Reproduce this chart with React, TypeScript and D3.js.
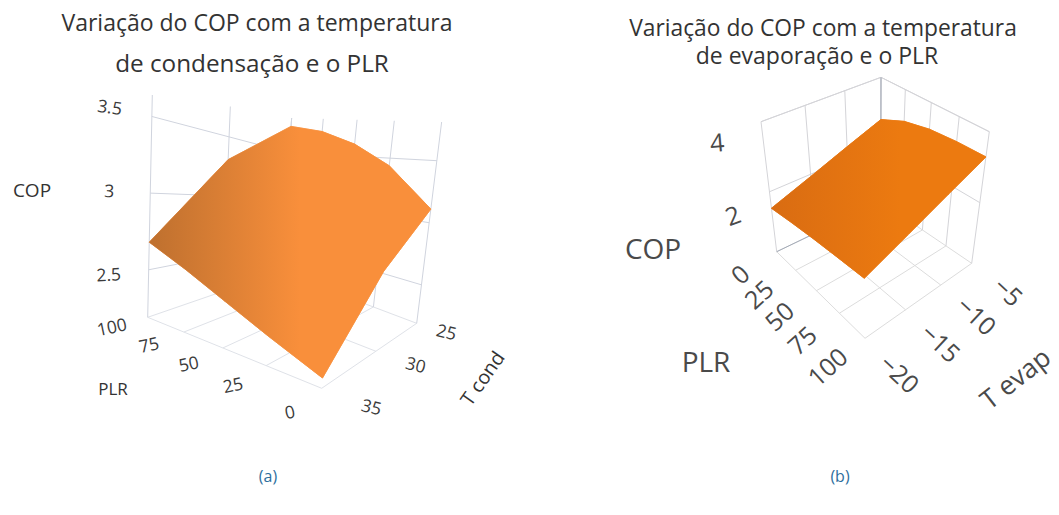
import React from "react";
import * as d3 from "d3";

// ---------- data ----------
const plrTicks = [0, 25, 50, 75, 100];
const tCondTicks = [25, 30, 35];
const tEvapTicks = [-5, -10, -15, -20];
const copTicksA = [2.5, 3, 3.5];
const copTicksB = [2, 4];
// rows follow plrTicks, columns follow the temperature ticks
const copCondRows = [
  [3.11, 2.78, 2.26],
  [3.43, 3.0, 2.39],
  [3.61, 3.14, 2.5],
  [3.73, 3.24, 2.6],
  [3.79, 3.27, 2.68],
];
const copEvapRows = [
  [2.74, 2.34, 1.93, 1.53],
  [3.05, 2.57, 2.1, 1.64],
  [3.21, 2.72, 2.23, 1.74],
  [3.27, 2.79, 2.3, 1.83],
  [3.29, 2.82, 2.36, 1.92],
];
const titleA = ["Variação do COP com a temperatura", "de condensação e o PLR"];
const titleB = ["Variação do COP com a temperatura", "de evaporação e o PLR"];

// ---------- perspective helpers ----------
type Pt = [number, number];
function homography(q: Pt[]) {
  const [[x0, y0], [x1, y1], [x2, y2], [x3, y3]] = q;
  const dx1 = x1 - x2, dx2 = x3 - x2, sx = x0 - x1 + x2 - x3;
  const dy1 = y1 - y2, dy2 = y3 - y2, sy = y0 - y1 + y2 - y3;
  const den = dx1 * dy2 - dx2 * dy1;
  const g = (sx * dy2 - dx2 * sy) / den, h = (dx1 * sy - sx * dy1) / den;
  const a = x1 - x0 + g * x1, b = x3 - x0 + h * x3;
  const d = y1 - y0 + g * y1, e = y3 - y0 + h * y3;
  return (u: number, v: number): Pt => {
    const w = g * u + h * v + 1;
    return [(a * u + b * v + x0) / w, (d * u + e * v + y0) / w];
  };
}
const lerp = (a: number, b: number, t: number) => a + (b - a) * t;
const linePath = d3.line<Pt>();

interface Cfg {
  id: string;
  floor: Pt[]; // (plr min,t first) (plr max,t first) (plr max,t last) (plr min,t last)
  top: Pt[];
  zDomain: [number, number];
  plrExp: number;
  tTicks: number[];
  copTicks: number[];
  rows: number[][];
  grad: [number, number, string, string];
  wallStroke: string;
  floorStroke: string;
  edgeStroke: string;
  accentStroke?: string;
  topEdges: boolean;
  wallPlr: number;
  wallT: number;
  wallTopY?: [number, number, number];
  plrLab: { o0: Pt; o1: Pt; rot: number; size: number; color: string };
  tLab: { o0: Pt; o1: Pt; rot: number; size: number; color: string };
  copLab: { o0: Pt; o1: Pt; r0: number; r1: number; size: number; color: string };
}

function Panel({ c }: { c: Cfg }) {
  const uS = d3.scalePow().exponent(c.plrExp).domain([0, 100]).range([0, 1]);
  const vS = d3.scaleLinear().domain([c.tTicks[0], c.tTicks[c.tTicks.length - 1]]).range([0, 1]);
  const wS = d3.scaleLinear().domain(c.zDomain).range([0, 1]);
  const F = homography(c.floor);
  const rise: Pt[] = c.top.map((p, i) => [p[0] - c.floor[i][0], p[1] - c.floor[i][1]]);
  const proj = (plr: number, t: number, z: number): Pt => {
    const u = uS(plr), v = vS(t), w = wS(z);
    const a = F(u, v);
    const bil = (k: 0 | 1) =>
      lerp(lerp(rise[0][k], rise[1][k], u), lerp(rise[3][k], rise[2][k], u), v);
    return [a[0] + bil(0) * w, a[1] + bil(1) * w];
  };
  const [zLo, zHi] = c.zDomain;
  const tFirst = c.tTicks[0], tLast = c.tTicks[c.tTicks.length - 1];
  const seg = (a: Pt, b: Pt) => linePath([a, b]) as string;
  const raise = (a: Pt, b: Pt, y?: number): Pt => {
    if (y === undefined) return b;
    const s = (a[1] - y) / (a[1] - b[1]);
    return [a[0] + (b[0] - a[0]) * s, y];
  };

  const cells: string[] = [];
  for (let i = 0; i < plrTicks.length - 1; i++) {
    for (let j = 0; j < c.tTicks.length - 1; j++) {
      cells.push(
        linePath([
          proj(plrTicks[i], c.tTicks[j], c.rows[i][j]),
          proj(plrTicks[i + 1], c.tTicks[j], c.rows[i + 1][j]),
          proj(plrTicks[i + 1], c.tTicks[j + 1], c.rows[i + 1][j + 1]),
          proj(plrTicks[i], c.tTicks[j + 1], c.rows[i][j + 1]),
        ]) + "Z"
      );
    }
  }
  const n = c.tTicks.length - 1, m = plrTicks.length - 1;
  const outline: Pt[] = [
    ...plrTicks.map((p, i) => proj(p, tFirst, c.rows[i][0])),
    ...c.tTicks.map((t, j) => proj(100, t, c.rows[m][j])),
    ...plrTicks.map((p, i) => proj(p, tLast, c.rows[i][n])).reverse(),
    ...c.tTicks.map((t, j) => proj(0, t, c.rows[0][j])).reverse(),
  ];

  const gl: React.ReactNode[] = [];
  const farPlr = 100 - c.wallPlr;
  const farT = c.wallT === tFirst ? tLast : tFirst;
  plrTicks.forEach((p) =>
    gl.push(<path key={"fp" + p} d={seg(proj(p, tFirst, zLo), proj(p, tLast, zLo))} stroke={c.floorStroke} />)
  );
  c.tTicks.forEach((t) =>
    gl.push(<path key={"ft" + t} d={seg(proj(0, t, zLo), proj(100, t, zLo))} stroke={c.floorStroke} />)
  );
  const ty = c.wallTopY;
  c.tTicks.forEach((t) => {
    const a = proj(c.wallPlr, t, zLo), b = proj(c.wallPlr, t, zHi);
    const yy = ty ? lerp(ty[1], ty[0], Math.abs(vS(t) - vS(c.wallT))) : undefined;
    gl.push(<path key={"wt" + t} d={seg(a, raise(a, b, yy))} stroke={c.wallStroke} />);
  });
  plrTicks.forEach((p) => {
    const a = proj(p, c.wallT, zLo), b = proj(p, c.wallT, zHi);
    const yy = ty ? lerp(ty[1], ty[2], Math.abs(uS(p) - uS(c.wallPlr))) : undefined;
    gl.push(<path key={"wp" + p} d={seg(a, raise(a, b, yy))} stroke={c.wallStroke} />);
  });
  c.copTicks.forEach((z) => {
    gl.push(
      <path key={"z" + z} stroke={c.wallStroke}
        d={linePath([proj(c.wallPlr, farT, z), proj(c.wallPlr, c.wallT, z), proj(farPlr, c.wallT, z)]) as string} />
    );
  });
  if (c.topEdges) {
    gl.push(
      <path key="top" stroke={c.wallStroke}
        d={linePath([proj(c.wallPlr, farT, zHi), proj(c.wallPlr, c.wallT, zHi), proj(farPlr, c.wallT, zHi)]) as string} />
    );
  }
  if (c.accentStroke) {
    gl.push(<path key="acc1" stroke={c.accentStroke} d={seg(proj(c.wallPlr, farT, zLo), proj(c.wallPlr, c.wallT, zLo))} />);
    gl.push(<path key="acc2" stroke={c.accentStroke} d={seg(proj(c.wallPlr, c.wallT, zLo), proj(c.wallPlr, c.wallT, zHi))} />);
  }

  const font = "'Open Sans', sans-serif";
  const rotText = (key: string, text: string, p: Pt, o: Pt, rot: number, size: number, color: string) => (
    <text key={key} x={0} y={0} textAnchor="middle" dominantBaseline="central" fontFamily={font}
      fontSize={size} fill={color}
      transform={`translate(${p[0] + o[0]},${p[1] + o[1]}) rotate(${rot})`}>{text}</text>
  );

  return (
    <g>
      <defs>
        <linearGradient id={c.id} gradientUnits="userSpaceOnUse" x1={c.grad[0]} x2={c.grad[1]} y1={0} y2={0}>
          <stop offset="0" stopColor={c.grad[2]} />
          <stop offset="1" stopColor={c.grad[3]} />
        </linearGradient>
      </defs>
      <g fill="none" strokeWidth={1}>{gl}</g>
      <path d={linePath(outline) + "Z"} fill={`url(#${c.id})`} stroke={c.edgeStroke} strokeWidth={1} />
      {cells.map((d, i) => (
        <path key={i} d={d} fill={`url(#${c.id})`} stroke={`url(#${c.id})`} strokeWidth={0.6} />
      ))}
      {plrTicks.map((p) => {
        const s = uS(p);
        const o: Pt = [lerp(c.plrLab.o0[0], c.plrLab.o1[0], s), lerp(c.plrLab.o0[1], c.plrLab.o1[1], s)];
        return rotText("lp" + p, String(p), proj(p, farT === tFirst ? tFirst : tLast, zLo), o, c.plrLab.rot, c.plrLab.size, c.plrLab.color);
      })}
      {c.tTicks.map((t) => {
        const s = vS(t);
        const o: Pt = [lerp(c.tLab.o0[0], c.tLab.o1[0], s), lerp(c.tLab.o0[1], c.tLab.o1[1], s)];
        return rotText("lt" + t, t < 0 ? "−" + Math.abs(t) : String(t), proj(farPlr, t, zLo), o, c.tLab.rot, c.tLab.size, c.tLab.color);
      })}
      {c.copTicks.map((z, i) => {
        const s = c.copTicks.length > 1 ? i / (c.copTicks.length - 1) : 0;
        const o: Pt = [lerp(c.copLab.o0[0], c.copLab.o1[0], s), lerp(c.copLab.o0[1], c.copLab.o1[1], s)];
        return rotText("lz" + z, String(z), proj(c.wallPlr, farT, z), o, lerp(c.copLab.r0, c.copLab.r1, s), c.copLab.size, c.copLab.color);
      })}
    </g>
  );
}

const cfgA: Cfg = {
  id: "gradA",
  floor: [[416.7, 323.3], [280, 271.7], [147.7, 317.3], [321.7, 388.3]],
  top: [[439, 143.3], [290, 140], [152.3, 95], [338, 175]],
  zDomain: [2.19, 3.64],
  plrExp: 0.85,
  tTicks: tCondTicks,
  copTicks: copTicksA,
  rows: copCondRows,
  grad: [155, 300, "#c0712f", "#f98f3b"],
  wallStroke: "#d0d4de",
  floorStroke: "#dfe2e8",
  edgeStroke: "#f7a765",
  topEdges: false,
  wallPlr: 100,
  wallT: 25,
  wallTopY: [95, 118, 122],
  plrLab: { o0: [-32, 23], o1: [-36, 9], rot: -12, size: 17.5, color: "#3a3a3a" },
  tLab: { o0: [30, 8], o1: [50, 18], rot: 14, size: 17.5, color: "#3a3a3a" },
  copLab: { o0: [-40, 4], o1: [-42, -10], r0: -3, r1: 8, size: 17.5, color: "#3a3a3a" },
};

const cfgB: Cfg = {
  id: "gradB",
  floor: [[880.7, 201.7], [971.7, 263.3], [865, 338.3], [776.7, 251.7]],
  top: [[881, 77.3], [989.3, 131.7], [863.3, 201.7], [761, 121.7]],
  zDomain: [0.29, 4],
  plrExp: 1,
  tTicks: tEvapTicks,
  copTicks: copTicksB,
  rows: copEvapRows,
  grad: [772, 900, "#d96c12", "#ec7a10"],
  wallStroke: "#d4d4d8",
  floorStroke: "#dcdcdc",
  edgeStroke: "#f08a2e",
  accentStroke: "#a4abb8",
  topEdges: true,
  wallPlr: 0,
  wallT: -5,
  plrLab: { o0: [-37, 22], o1: [-38, 28], rot: -42, size: 25, color: "#4a4a4a" },
  tLab: { o0: [37, 28], o1: [35, 35], rot: 43, size: 25, color: "#4a4a4a" },
  copLab: { o0: [-37, 23], o1: [-44, 20], r0: -20, r1: -5, size: 25, color: "#4a4a4a" },
};

export default function App() {
  const font = "'Open Sans', sans-serif";
  const t = (key: string, s: string, x: number, y: number, size: number, fill = "#333", rot = 0) => (
    <text key={key} textAnchor="middle" dominantBaseline="central" fontFamily={font} fontSize={size} fill={fill}
      transform={`translate(${x},${y}) rotate(${rot})`}>{s}</text>
  );
  return (
    <svg width={1059} height={515} style={{ position: "absolute", left: 0, top: 0 }}>
      <rect width={1059} height={515} fill="#fff" />
      {t("ta1", titleA[0], 257, 22, 23)}
      {t("ta2", titleA[1], 252, 62, 24.3)}
      {t("tb1", titleB[0], 823, 27, 22.8)}
      {t("tb2", titleB[1], 817, 55, 23)}
      <Panel c={cfgA} />
      <Panel c={cfgB} />
      {t("aCop", "COP", 32, 190, 19)}
      {t("aPlr", "PLR", 113, 388, 17)}
      {t("aT", "T cond", 482, 378, 19.5, "#333", -55)}
      {t("bCop", "COP", 653, 248, 28, "#4a4a4a")}
      {t("bPlr", "PLR", 706, 361, 28, "#4a4a4a")}
      {t("bT", "T evap", 1015, 378, 26.5, "#4a4a4a", -38)}
      {t("capA", "(a)", 268, 476, 16, "#2e6f9e")}
      {t("capB", "(b)", 840, 476, 16, "#2e6f9e")}
    </svg>
  );
}
